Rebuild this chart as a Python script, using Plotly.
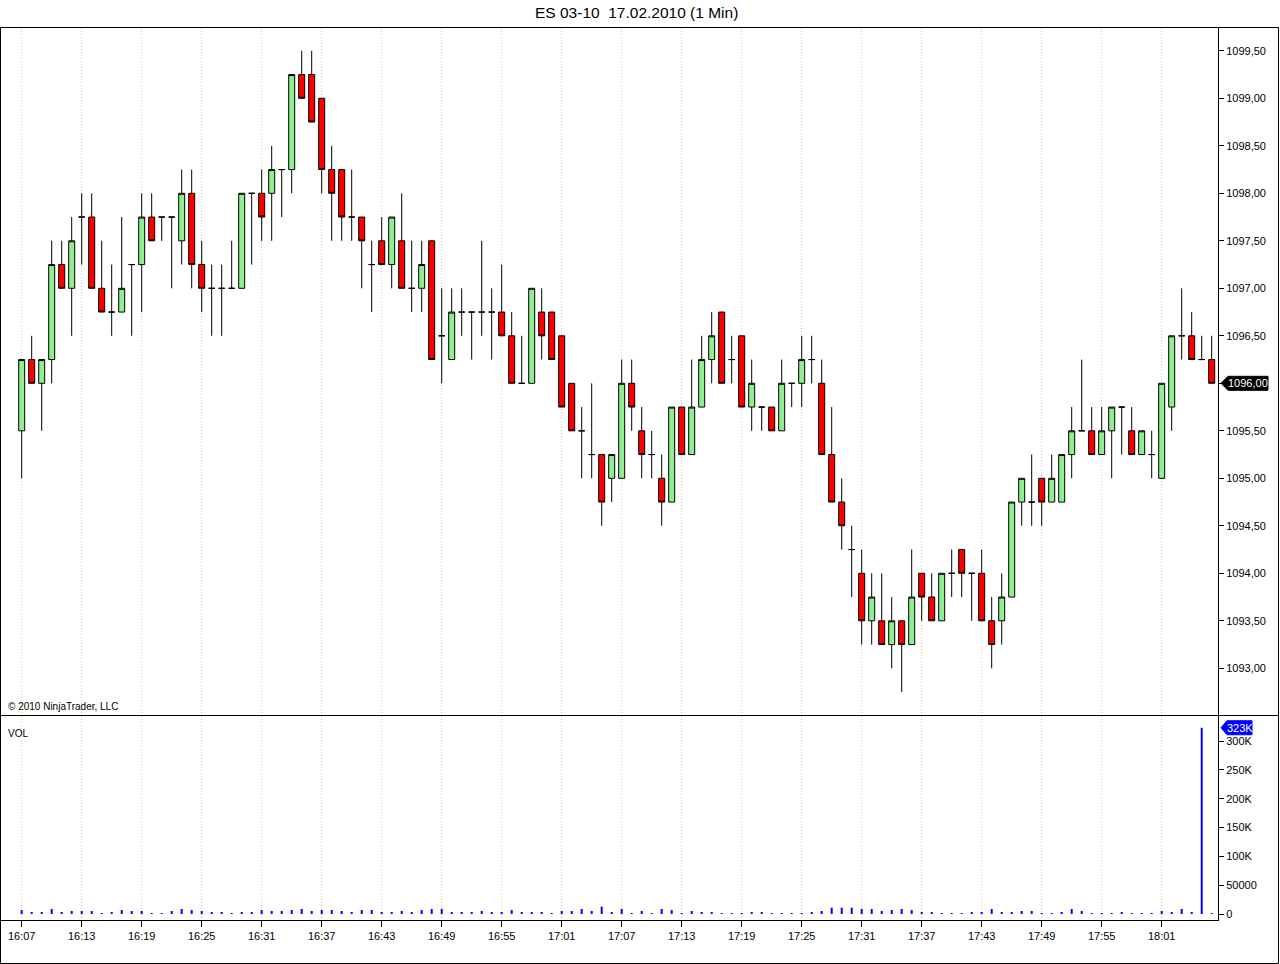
import pandas as pd
import plotly.graph_objects as go

# ---------------- data ----------------
start_time = "2010-02-17 16:07"

opens = [
    1095.5, 1096.25, 1096.0, 1096.25, 1097.25, 1097.0, 1097.75, 1097.75, 1097.0, 1096.75,
    1096.75, 1097.25, 1097.25, 1097.75, 1097.75, 1097.75, 1097.5, 1098.0, 1097.25, 1097.0,
    1097.0, 1097.0, 1097.0, 1098.0, 1098.0, 1098.0, 1098.25, 1098.25, 1099.25, 1099.25,
    1099.0, 1098.25, 1098.25, 1097.75, 1097.75, 1097.25, 1097.5, 1097.25, 1097.5, 1097.0,
    1097.0, 1097.5, 1096.5, 1096.25, 1096.75, 1096.75, 1096.75, 1096.75, 1096.75, 1096.5,
    1096.0, 1096.0, 1096.75, 1096.75, 1096.5, 1096.0, 1095.5, 1095.25, 1095.25, 1095.0,
    1095.0, 1096.0, 1095.5, 1095.25, 1095.0, 1094.75, 1095.75, 1095.25, 1095.75, 1096.25,
    1096.75, 1096.25, 1096.5, 1095.75, 1095.75, 1095.75, 1095.5, 1096.0, 1096.0, 1096.25,
    1096.0, 1095.25, 1094.75, 1094.25, 1094.0, 1093.5, 1093.5, 1093.25, 1093.5, 1093.25,
    1094.0, 1093.75, 1093.5, 1094.0, 1094.25, 1094.0, 1094.0, 1093.5, 1093.5, 1093.75,
    1094.75, 1094.75, 1095.0, 1094.75, 1094.75, 1095.25, 1095.5, 1095.5, 1095.25, 1095.5,
    1095.75, 1095.5, 1095.25, 1095.25, 1095.0, 1095.75, 1096.5, 1096.5, 1096.25, 1096.25,
]
highs = [
    1096.25, 1096.5, 1096.25, 1097.5, 1097.5, 1097.75, 1098.0, 1098.0, 1097.5, 1097.25,
    1097.75, 1097.25, 1098.0, 1098.0, 1097.75, 1097.75, 1098.25, 1098.25, 1097.5, 1097.25,
    1097.25, 1097.5, 1098.0, 1098.0, 1098.25, 1098.5, 1098.25, 1099.25, 1099.5, 1099.5,
    1099.0, 1098.5, 1098.25, 1098.25, 1097.75, 1097.5, 1097.75, 1097.75, 1098.0, 1097.5,
    1097.5, 1097.5, 1097.0, 1097.0, 1097.0, 1096.75, 1097.5, 1097.0, 1097.25, 1096.75,
    1096.5, 1097.0, 1097.0, 1096.75, 1096.5, 1096.0, 1095.75, 1096.0, 1095.25, 1095.25,
    1096.25, 1096.25, 1095.75, 1095.5, 1095.25, 1095.75, 1095.75, 1096.25, 1096.5, 1096.75,
    1096.75, 1096.5, 1096.5, 1096.25, 1095.75, 1095.75, 1096.25, 1096.0, 1096.5, 1096.5,
    1096.25, 1095.75, 1095.0, 1094.5, 1094.25, 1094.0, 1094.0, 1093.75, 1093.5, 1094.25,
    1094.0, 1094.0, 1094.0, 1094.25, 1094.25, 1094.0, 1094.25, 1093.75, 1094.0, 1094.75,
    1095.0, 1095.25, 1095.0, 1095.25, 1095.25, 1095.75, 1096.25, 1095.75, 1095.75, 1095.75,
    1095.75, 1095.75, 1095.5, 1095.5, 1096.0, 1096.5, 1097.0, 1096.75, 1096.5, 1096.5,
]
lows = [
    1095.0, 1096.0, 1095.5, 1096.0, 1097.0, 1096.5, 1097.25, 1097.0, 1096.75, 1096.5,
    1096.75, 1096.5, 1096.75, 1097.5, 1097.5, 1097.0, 1097.25, 1097.0, 1096.75, 1096.5,
    1096.5, 1097.0, 1097.0, 1097.25, 1097.5, 1097.5, 1097.75, 1098.0, 1099.0, 1098.75,
    1098.0, 1097.5, 1097.5, 1097.5, 1097.0, 1096.75, 1097.25, 1097.0, 1097.0, 1096.75,
    1096.75, 1096.25, 1096.0, 1096.25, 1096.5, 1096.25, 1096.5, 1096.25, 1096.5, 1096.0,
    1096.0, 1096.0, 1096.25, 1096.25, 1095.75, 1095.5, 1095.0, 1095.0, 1094.5, 1094.75,
    1095.0, 1095.5, 1095.0, 1095.0, 1094.5, 1094.75, 1095.25, 1095.25, 1095.75, 1096.0,
    1096.0, 1096.0, 1095.75, 1095.5, 1095.5, 1095.5, 1095.5, 1095.75, 1095.75, 1096.0,
    1095.25, 1094.75, 1094.25, 1093.75, 1093.25, 1093.25, 1093.25, 1093.0, 1092.75, 1093.25,
    1093.5, 1093.5, 1093.5, 1093.75, 1093.75, 1093.5, 1093.5, 1093.0, 1093.25, 1093.75,
    1094.5, 1094.5, 1094.5, 1094.75, 1094.75, 1095.0, 1095.5, 1095.25, 1095.25, 1095.0,
    1095.25, 1095.25, 1095.25, 1095.0, 1095.0, 1095.5, 1096.25, 1096.25, 1096.25, 1096.0,
]
closes = [
    1096.25, 1096.0, 1096.25, 1097.25, 1097.0, 1097.5, 1097.75, 1097.0, 1096.75, 1096.75,
    1097.0, 1097.25, 1097.75, 1097.5, 1097.75, 1097.75, 1098.0, 1097.25, 1097.0, 1097.0,
    1097.0, 1097.0, 1098.0, 1098.0, 1097.75, 1098.25, 1098.25, 1099.25, 1099.0, 1098.75,
    1098.25, 1098.0, 1097.75, 1097.75, 1097.5, 1097.25, 1097.25, 1097.75, 1097.0, 1097.0,
    1097.25, 1096.25, 1096.5, 1096.75, 1096.75, 1096.75, 1096.75, 1096.75, 1096.5, 1096.0,
    1096.0, 1097.0, 1096.5, 1096.25, 1095.75, 1095.5, 1095.5, 1095.25, 1094.75, 1095.25,
    1096.0, 1095.75, 1095.25, 1095.25, 1094.75, 1095.75, 1095.25, 1095.75, 1096.25, 1096.5,
    1096.0, 1096.25, 1095.75, 1096.0, 1095.75, 1095.5, 1096.0, 1096.0, 1096.25, 1096.25,
    1095.25, 1094.75, 1094.5, 1094.25, 1093.5, 1093.75, 1093.25, 1093.5, 1093.25, 1093.75,
    1093.75, 1093.5, 1094.0, 1094.0, 1094.0, 1094.0, 1093.5, 1093.25, 1093.75, 1094.75,
    1095.0, 1094.75, 1094.75, 1095.0, 1095.25, 1095.5, 1095.5, 1095.25, 1095.5, 1095.75,
    1095.75, 1095.25, 1095.5, 1095.25, 1096.0, 1096.5, 1096.5, 1096.25, 1096.25, 1096.0,
]
volumes = [
    7000, 3000, 3000, 8700, 3000, 5200, 5200, 5200, 1200, 3000,
    7000, 5200, 5200, 1200, 1200, 5200, 8700, 7000, 5200, 3000,
    3000, 1200, 3000, 3000, 7000, 5200, 5200, 7000, 8700, 5200,
    7000, 7000, 5200, 3000, 7000, 7000, 3000, 3000, 5200, 3000,
    7000, 8700, 8700, 3000, 3000, 3000, 5200, 3000, 3000, 7000,
    3000, 3000, 3000, 1200, 5200, 5200, 8700, 5200, 12700, 3000,
    8700, 1200, 5200, 1200, 8700, 7000, 1200, 5200, 3000, 3000,
    1200, 1200, 1200, 3000, 3000, 1200, 1200, 1200, 1200, 3000,
    5200, 11000, 11000, 11000, 8700, 8700, 5200, 7000, 8700, 7000,
    3000, 3000, 1200, 1200, 1200, 3000, 3000, 8700, 3000, 3000,
    5200, 5200, 1200, 1200, 3000, 8700, 5200, 1200, 1200, 1200,
    3000, 1200, 1200, 1200, 5200, 3000, 8700, 3000, 323000, 800,
]

price_ticks = [1093.0, 1093.5, 1094.0, 1094.5, 1095.0, 1095.5, 1096.0,
               1096.5, 1097.0, 1097.5, 1098.0, 1098.5, 1099.0, 1099.5]
price_tick_labels = ["1093,00", "1093,50", "1094,00", "1094,50", "1095,00", "1095,50", "1096,00",
                     "1096,50", "1097,00", "1097,50", "1098,00", "1098,50", "1099,00", "1099,50"]
price_grid = [1093.0, 1094.5, 1096.0, 1097.5, 1099.0]
vol_ticks = [0, 50000, 100000, 150000, 200000, 250000, 300000]
vol_tick_labels = ["0", "50000", "100K", "150K", "200K", "250K", "300K"]

title_text = "ES 03-10\u00a0 17.02.2010 (1 Min)"
copyright_text = "© 2010 NinjaTrader, LLC"
vol_label = "VOL"

# ---------------- geometry ----------------
W, H = 1280, 964
def fx(p):
    return p / W
def fy(p):
    return 1 - p / H

PLOT_L, PLOT_R = 1, 1218
PRICE_T, PRICE_B = 28, 715
VOL_T, VOL_B = 716, 920

times = pd.date_range(start_time, periods=len(opens), freq="1min")
t0 = times[0]
X0_PX, PX_PER_BAR = 21.7, 10.0
x_range = [t0 + pd.Timedelta(minutes=(PLOT_L - X0_PX) / PX_PER_BAR),
           t0 + pd.Timedelta(minutes=(PLOT_R - X0_PX) / PX_PER_BAR)]

REF_PRICE, REF_PX, PX_PER_PT = 1099.0, 98.3, 95.0
y_range = [REF_PRICE - (PRICE_B - REF_PX) / PX_PER_PT,
           REF_PRICE + (REF_PX - PRICE_T) / PX_PER_PT]

V0_PX, PX_PER_VOL = 914.0, 173.0 / 300000
v_range = [-(VOL_B - V0_PX) / PX_PER_VOL, (V0_PX - VOL_T) / PX_PER_VOL]

FONT = "Liberation Sans, Arial, sans-serif"
VGRID = "rgb(214,200,170)"
HGRID = "rgb(190,190,190)"
DOT = "1px,2px"

last_close = closes[-1]
last_label = f"{last_close:.2f}".replace(".", ",")
max_vol = max(volumes)
max_label = f"{round(max_vol / 1000)}K"

# the last-price marker covers the axis label at the same level
axis_labels = [("" if v == last_close else t) for v, t in zip(price_ticks, price_tick_labels)]

# ---------------- traces ----------------
candles = go.Candlestick(
    x=times, open=opens, high=highs, low=lows, close=closes,
    increasing=dict(line=dict(color="black", width=1), fillcolor="#90EE90"),
    decreasing=dict(line=dict(color="black", width=1), fillcolor="#FF0000"),
    whiskerwidth=0, xaxis="x", yaxis="y", showlegend=False, hoverinfo="skip",
)
vol = go.Bar(
    x=times, y=volumes, width=12000,
    marker=dict(color="#0000FF", line=dict(width=0)),
    xaxis="x2", yaxis="y2", showlegend=False, hoverinfo="skip",
)

fig = go.Figure([candles, vol])

common_x = dict(
    domain=[fx(PLOT_L), fx(PLOT_R)], range=x_range, type="date",
    tick0=t0, dtick=6 * 60 * 1000,
    showgrid=True, gridcolor=VGRID, griddash=DOT, gridwidth=1,
    zeroline=False, rangeslider=dict(visible=False), fixedrange=True,
)

fig.update_layout(
    width=W, height=H, margin=dict(l=0, r=0, t=0, b=0),
    paper_bgcolor="white", plot_bgcolor="white",
    font=dict(family=FONT, size=11, color="black"),
    showlegend=False, boxgap=0.4, boxgroupgap=0,
    xaxis=dict(**common_x, anchor="y", showticklabels=False, ticks="", showline=False),
    xaxis2=dict(**common_x, anchor="y2", matches="x", tickformat="%H:%M",
                showline=True, linecolor="black", linewidth=1,
                ticks="outside", ticklen=6, tickcolor="black", tickwidth=1,
                tickfont=dict(size=11)),
    yaxis=dict(domain=[fy(PRICE_B), fy(PRICE_T)], range=y_range, side="right", anchor="x",
               tickmode="array", tickvals=price_ticks, ticktext=axis_labels,
               ticks="outside", ticklen=5, tickcolor="black", tickwidth=1,
               showline=True, linecolor="black", linewidth=1,
               showgrid=False, zeroline=False, fixedrange=True, tickfont=dict(size=11)),
    yaxis3=dict(overlaying="y", anchor="x", side="right", range=y_range,
                tickmode="array", tickvals=price_grid, showticklabels=False, ticks="",
                showgrid=True, gridcolor=HGRID, griddash=DOT, gridwidth=1,
                showline=False, zeroline=False, fixedrange=True),
    yaxis2=dict(domain=[fy(VOL_B), fy(VOL_T)], range=v_range, side="right", anchor="x2",
                tickmode="array", tickvals=vol_ticks, ticktext=vol_tick_labels,
                ticks="outside", ticklen=5, tickcolor="black", tickwidth=1,
                showline=True, linecolor="black", linewidth=1,
                showgrid=False, zeroline=False, fixedrange=True, tickfont=dict(size=11)),
    yaxis4=dict(overlaying="y2", anchor="x2", side="right", range=v_range,
                tickmode="array", tickvals=[0], showticklabels=False, ticks="",
                showgrid=True, gridcolor=HGRID, griddash=DOT, gridwidth=1,
                showline=False, zeroline=False, fixedrange=True),
)

shapes = [
    # outer frame
    dict(type="rect", xref="paper", yref="paper", x0=fx(0.5), x1=fx(1278.5), y0=fy(963.5), y1=fy(27.5),
         line=dict(color="black", width=1), fillcolor="rgba(0,0,0,0)", layer="above"),
    # panel separator
    dict(type="line", xref="paper", yref="paper", x0=fx(0), x1=fx(1279), y0=fy(715.5), y1=fy(715.5),
         line=dict(color="black", width=1), layer="above"),
    # last price marker
    dict(type="path", xref="paper", xsizemode="pixel", xanchor=fx(PLOT_R),
         yref="y", ysizemode="pixel", yanchor=last_close,
         path="M 3,0 L 10,7 L 50,7 L 50,-7 L 10,-7 Z",
         fillcolor="black", line=dict(color="black", width=1), layer="above"),
    # max volume marker
    dict(type="path", xref="paper", xsizemode="pixel", xanchor=fx(PLOT_R),
         yref="y2", ysizemode="pixel", yanchor=max_vol,
         path="M 3,0 L 9,7 L 34,7 L 34,-7 L 9,-7 Z",
         fillcolor="#0000FF", line=dict(color="#0000FF", width=1), layer="above"),
]
fig.update_layout(shapes=shapes)

annotations = [
    dict(text=title_text, xref="paper", yref="paper", x=fx(636), y=fy(13),
         xanchor="center", yanchor="middle", showarrow=False,
         font=dict(family=FONT, size=15.5, color="black")),
    dict(text=copyright_text, xref="paper", yref="paper", x=fx(6), y=fy(706),
         xanchor="left", yanchor="middle", showarrow=False, font=dict(size=10)),
    dict(text=vol_label, xref="paper", yref="paper", x=fx(6), y=fy(733),
         xanchor="left", yanchor="middle", showarrow=False, font=dict(size=10)),
    dict(text=last_label, xref="paper", yref="y", x=fx(PLOT_R + 30), y=last_close,
         xanchor="center", yanchor="middle", showarrow=False,
         font=dict(size=11, color="white")),
    dict(text=max_label, xref="paper", yref="y2", x=fx(PLOT_R + 22), y=max_vol,
         xanchor="center", yanchor="middle", showarrow=False,
         font=dict(size=11, color="white")),
]
fig.update_layout(annotations=annotations)

fig.write_html("out.html", config={"displayModeBar": False},
               post_script="document.body.style.margin='0px';")
